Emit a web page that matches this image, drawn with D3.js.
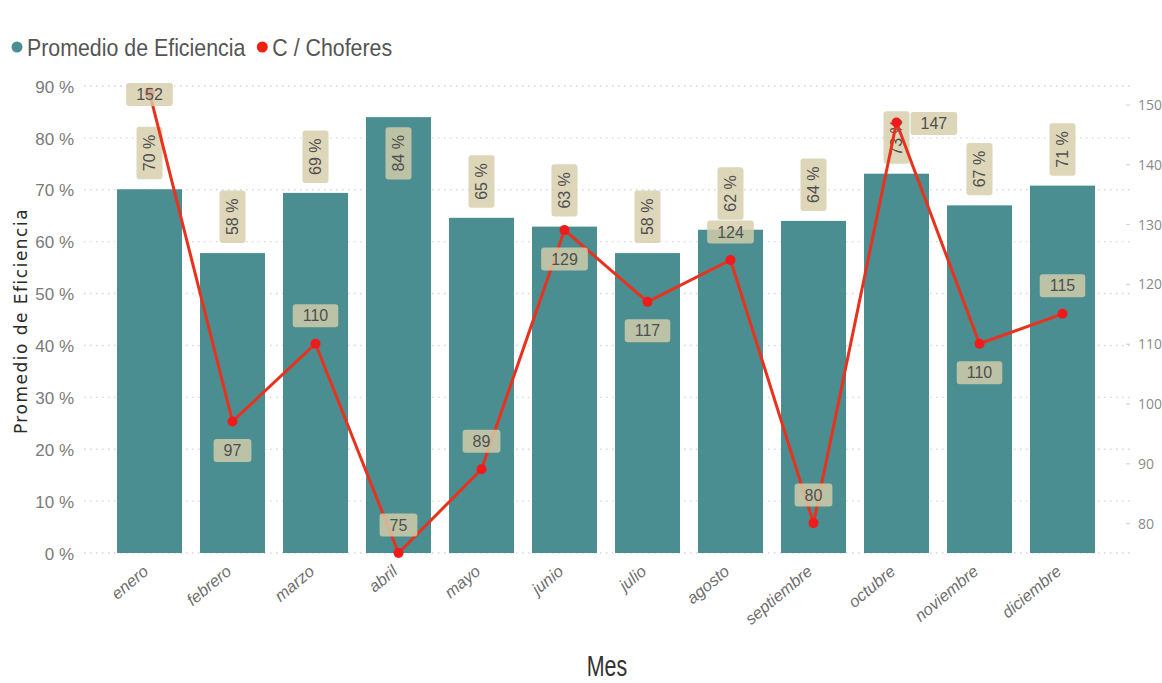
<!DOCTYPE html>
<html>
<head>
<meta charset="utf-8">
<script src="https://cdn.jsdelivr.net/npm/d3@7"></script>
<style>
  html, body { margin: 0; padding: 0; background: #ffffff; }
  svg { display: block; }
</style>
</head>
<body>
<svg id="chart" width="1162" height="683"></svg>
<script>
// Monthly efficiency (bars, left axis) and drivers count (line, right axis)
const months = ["enero", "febrero", "marzo", "abril", "mayo", "junio",
                "julio", "agosto", "septiembre", "octubre", "noviembre", "diciembre"];
const efficiency = [0.701, 0.578, 0.694, 0.840, 0.646, 0.629,
                    0.578, 0.623, 0.640, 0.731, 0.670, 0.708];
const drivers = [152, 97, 110, 75, 89, 129, 117, 124, 80, 147, 110, 115];
// where each driver value label sits relative to its point
const driverLabelSide = ["center", "below", "above", "above", "above", "below",
                         "below", "above", "above", "right", "below", "above"];
const leftTicks = [0, 0.1, 0.2, 0.3, 0.4, 0.5, 0.6, 0.7, 0.8, 0.9];
const rightTicks = [80, 90, 100, 110, 120, 130, 140, 150];
const seriesNames = ["Promedio de Eficiencia", "C / Choferes"];

const BAR = "#4a8e91";
const LINE = "#e8321e";
const DOT = "#f01a1a";
const BOX = "rgba(214,205,170,0.82)";
const SANS = "'Liberation Sans', Arial, sans-serif";

const svg = d3.select("#chart");
const plotTop = 86, plotBottom = 553;

const x = d3.scaleBand().domain(months).range([108, 1104])
  .paddingInner(0.217).paddingOuter(0.1085);
const yL = d3.scaleLinear().domain([0, 0.9]).range([plotBottom, plotTop]);
const yR = d3.scaleLinear().domain([75, 153.1]).range([plotBottom, plotTop]);

// dotted gridlines
svg.append("g").selectAll("line").data(leftTicks).join("line")
  .attr("x1", 84).attr("x2", 1130)
  .attr("y1", d => yL(d)).attr("y2", d => yL(d))
  .attr("stroke", "#d6d6d6").attr("stroke-width", 1.4)
  .attr("stroke-dasharray", "1.5,4.5");

// left axis
const leftAxis = d3.axisLeft(yL).tickValues(leftTicks)
  .tickFormat(d => Math.round(d * 100) + " %").tickSize(0).tickPadding(0);
const gl = svg.append("g").attr("transform", "translate(74,0)").call(leftAxis);
gl.select(".domain").remove();
gl.selectAll("text").attr("font-family", SANS).attr("font-size", 17)
  .attr("fill", "#7a7a7a").attr("dy", "0.36em");

// right axis
const rightAxis = d3.axisRight(yR).tickValues(rightTicks).tickSize(4).tickPadding(8);
const gr = svg.append("g").attr("transform", "translate(1126,0)").call(rightAxis);
gr.select(".domain").remove();
gr.selectAll("line").attr("stroke", "#cfcfcf");
gr.selectAll("text").attr("font-family", "'Open Sans', 'Noto Sans', sans-serif")
  .attr("font-size", 14).attr("fill", "#8a8a8a").attr("dy", "0.36em");

// bars
svg.append("g").selectAll("rect").data(months).join("rect")
  .attr("x", d => x(d)).attr("width", x.bandwidth())
  .attr("y", (d, i) => yL(efficiency[i]))
  .attr("height", (d, i) => plotBottom - yL(efficiency[i]))
  .attr("fill", BAR);

// bar value labels (rotated)
const barLabels = svg.append("g");
months.forEach((m, i) => {
  const txt = Math.round(efficiency[i] * 100) + " %";
  const cx = x(m) + x.bandwidth() / 2;
  const top = yL(efficiency[i]);
  const g = barLabels.append("g");
  const t = g.append("text").text(txt)
    .attr("font-family", SANS).attr("font-size", 16).attr("fill", "#4f4f4f")
    .attr("text-anchor", "middle").attr("dy", "0.35em");
  const w = t.node().getComputedTextLength();
  const boxH = w + 16, boxW = 26, gap = 10;
  const inside = top - gap - boxH < 60;
  const cy = inside ? top + gap + boxH / 2 : top - gap - boxH / 2;
  g.attr("transform", `translate(${cx},${cy}) rotate(-90)`);
  g.insert("rect", "text")
    .attr("x", -boxH / 2).attr("y", -boxW / 2)
    .attr("width", boxH).attr("height", boxW)
    .attr("rx", 3).attr("fill", BOX);
});

// drivers line
const lineGen = d3.line()
  .x((d, i) => x(months[i]) + x.bandwidth() / 2)
  .y(d => yR(d));
svg.append("path").datum(drivers).attr("d", lineGen)
  .attr("fill", "none").attr("stroke", LINE).attr("stroke-width", 3)
  .attr("stroke-linejoin", "round");
svg.append("g").selectAll("circle").data(drivers).join("circle")
  .attr("cx", (d, i) => x(months[i]) + x.bandwidth() / 2)
  .attr("cy", d => yR(d)).attr("r", 5).attr("fill", DOT);

// drivers value labels
const lineLabels = svg.append("g");
drivers.forEach((v, i) => {
  const px = x(months[i]) + x.bandwidth() / 2;
  const py = yR(v);
  const g = lineLabels.append("g");
  const t = g.append("text").text(v)
    .attr("font-family", SANS).attr("font-size", 16).attr("fill", "#4f4f4f")
    .attr("text-anchor", "middle").attr("dy", "0.35em");
  const w = t.node().getComputedTextLength();
  const boxW = w + 20, boxH = 23;
  let cx = px, cy = py;
  const side = driverLabelSide[i];
  if (side === "above") cy = py - 28;
  else if (side === "below") cy = py + 29;
  else if (side === "right") { cx = px + 10 + boxW / 2 + 4; cy = py + 1; }
  else cy = py + 2;
  g.attr("transform", `translate(${cx},${cy})`);
  g.insert("rect", "text")
    .attr("x", -boxW / 2).attr("y", -boxH / 2)
    .attr("width", boxW).attr("height", boxH)
    .attr("rx", 3).attr("fill", BOX);
});

// month labels
svg.append("g").selectAll("text").data(months).join("text")
  .attr("transform", d => `translate(${x(d) + x.bandwidth() / 2},573) rotate(-40)`)
  .attr("text-anchor", "end")
  .attr("font-family", SANS).attr("font-size", 16.5).attr("font-style", "italic")
  .attr("fill", "#6e6e6e")
  .text(d => d);

// axis titles
svg.append("text")
  .attr("transform", "translate(27,321) rotate(-90)")
  .attr("text-anchor", "middle")
  .attr("font-family", "'DejaVu Sans', Verdana, sans-serif")
  .attr("font-size", 17).attr("letter-spacing", 1.5)
  .attr("fill", "#2a2a2a")
  .text("Promedio de Eficiencia");

// condensed title text
svg.append("g").attr("transform", "translate(607,676) scale(0.74,1)")
  .append("text").attr("text-anchor", "middle")
  .attr("font-family", SANS).attr("font-size", 29).attr("fill", "#333")
  .text("Mes");

// legend (condensed text)
const legend = svg.append("g");
let lx = 17;
const condense = 0.89;
seriesNames.forEach((name, i) => {
  legend.append("circle").attr("cx", lx).attr("cy", 47).attr("r", 5.5)
    .attr("fill", i === 0 ? BAR : "#f0200f");
  const t = legend.append("g").attr("transform", `translate(${lx + 10},56) scale(${condense},1)`)
    .append("text")
    .attr("font-family", SANS).attr("font-size", 24).attr("fill", "#555")
    .text(name);
  lx += 10 + t.node().getComputedTextLength() * condense + 17;
});
</script>
</body>
</html>
